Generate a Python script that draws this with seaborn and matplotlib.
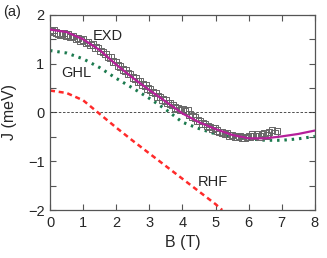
import matplotlib
matplotlib.use("Agg")
import matplotlib.pyplot as plt
import numpy as np
import pandas as pd
import seaborn as sns
from matplotlib.ticker import MultipleLocator

# theory curves
b_grid = [0.0, 0.5, 1.0, 1.5, 2.0, 2.5, 3.0, 3.5, 4.0, 4.5, 5.0, 5.5, 6.0, 6.5, 7.0, 7.5, 8.0]
j_exd = [1.70, 1.65, 1.50, 1.28, 0.98, 0.71, 0.46, 0.22, -0.02, -0.20, -0.34, -0.46, -0.53, -0.53, -0.49, -0.44, -0.37]
j_ghl = [1.27, 1.22, 1.10, 0.92, 0.70, 0.50, 0.29, 0.06, -0.20, -0.33, -0.44, -0.50, -0.54, -0.57, -0.57, -0.54, -0.49]

b_rhf = [0.0, 0.5, 1.0, 1.5, 2.0, 2.5, 3.0, 3.5, 4.0, 4.5, 5.0, 5.2]
j_rhf = [0.45, 0.40, 0.25, -0.03, -0.31, -0.58, -0.84, -1.10, -1.36, -1.62, -1.88, -2.00]

# measured points
b_exp = [0.00, 0.05, 0.10, 0.18, 0.25, 0.32, 0.40, 0.48, 0.55, 0.62, 0.70, 0.78, 0.85, 0.92,
         1.00, 1.08, 1.15, 1.22, 1.30, 1.38, 1.45, 1.52, 1.60, 1.68, 1.75, 1.82, 1.90, 1.98,
         2.05, 2.12, 2.20, 2.28, 2.35, 2.42, 2.50, 2.58, 2.65, 2.72, 2.80, 2.88, 2.95, 3.02,
         3.10, 3.18, 3.25, 3.32, 3.40, 3.48, 3.55, 3.62, 3.70, 3.78, 3.85, 3.92, 4.00, 4.08,
         4.15, 4.22, 4.30, 4.38, 4.45, 4.52, 4.60, 4.68, 4.75, 4.82, 4.90, 4.98, 5.05, 5.12,
         5.20, 5.28, 5.35, 5.42, 5.50, 5.58, 5.65, 5.72, 5.80, 5.88, 5.95, 6.02, 6.10, 6.18,
         6.25, 6.32, 6.40, 6.48, 6.55, 6.62, 6.70, 6.78, 6.85]
j_exp = [1.68, 1.66, 1.69, 1.64, 1.62, 1.60, 1.63, 1.58, 1.60, 1.55, 1.57, 1.52, 1.53, 1.48,
         1.50, 1.44, 1.45, 1.38, 1.39, 1.33, 1.32, 1.26, 1.24, 1.20, 1.14, 1.13, 1.05, 1.04,
         0.96, 0.94, 0.88, 0.86, 0.80, 0.79, 0.72, 0.70, 0.64, 0.64, 0.57, 0.55, 0.49, 0.47,
         0.42, 0.40, 0.33, 0.32, 0.27, 0.25, 0.19, 0.18, 0.15, 0.10, 0.08, 0.05, 0.06, 0.03,
         0.04, -0.04, -0.08, -0.10, -0.16, -0.17, -0.23, -0.24, -0.28, -0.30, -0.33, -0.32, -0.37, -0.40,
         -0.41, -0.44, -0.43, -0.47, -0.46, -0.49, -0.50, -0.48, -0.51, -0.52, -0.50, -0.49, -0.45, -0.48,
         -0.45, -0.49, -0.44, -0.42, -0.47, -0.40, -0.36, -0.43, -0.38]

sns.set_theme(style="ticks")
plt.rcParams["font.family"] = ["Liberation Sans", "DejaVu Sans"]

theory = pd.DataFrame({"B": b_grid, "EXD": j_exd, "GHL": j_ghl})
rhf = pd.DataFrame({"B": b_rhf, "J": j_rhf})
exp = pd.DataFrame({"B": b_exp, "J": j_exp})

fig = plt.figure(figsize=(3.27, 2.58), dpi=100)
ax = fig.add_axes([0.153, 0.186, 0.81, 0.756])

ax.axhline(0, color="#333333", lw=0.6, ls=(0, (3, 2)), zorder=1)

sns.lineplot(data=rhf, x="B", y="J", ax=ax, color="#ff2a2a", lw=1.8, ls=(0, (2, 1.5)))
sns.lineplot(data=theory, x="B", y="GHL", ax=ax, color="#1b7a4e", lw=2.2, ls=(0, (0.8, 1.6)))
sns.scatterplot(data=exp, x="B", y="J", ax=ax, marker="s", s=22, facecolor="none",
                edgecolor="#666666", linewidth=0.7, zorder=3)
sns.lineplot(data=theory, x="B", y="EXD", ax=ax, color="#b5209a", lw=1.6, zorder=4)

ax.text(1.75, 1.57, "EXD", fontsize=10.5, ha="center", va="center")
ax.text(0.78, 0.82, "GHL", fontsize=10.5, ha="center", va="center")
ax.text(4.92, -1.42, "RHF", fontsize=10.5, ha="center", va="center")
fig.text(0.01, 0.955, "(a)", fontsize=10.5, ha="left", va="center")

ax.set_xlim(0, 8)
ax.set_ylim(-2, 2)
ax.xaxis.set_major_locator(MultipleLocator(1))
ax.yaxis.set_major_locator(MultipleLocator(1))
ax.yaxis.set_minor_locator(MultipleLocator(0.5))
ax.tick_params(which="both", direction="in", top=True, right=True, color="#555555",
               labelsize=10.5, pad=4)
ax.tick_params(which="major", length=4, width=0.8)
ax.tick_params(which="minor", length=4, width=0.8)
for sp in ax.spines.values():
    sp.set_color("#555555")
    sp.set_linewidth(0.9)

ax.set_xlabel("B (T)", fontsize=11.5, labelpad=4)
ax.set_ylabel("J (meV)", fontsize=11.5, labelpad=8)

fig.savefig("out.png", dpi=100)
